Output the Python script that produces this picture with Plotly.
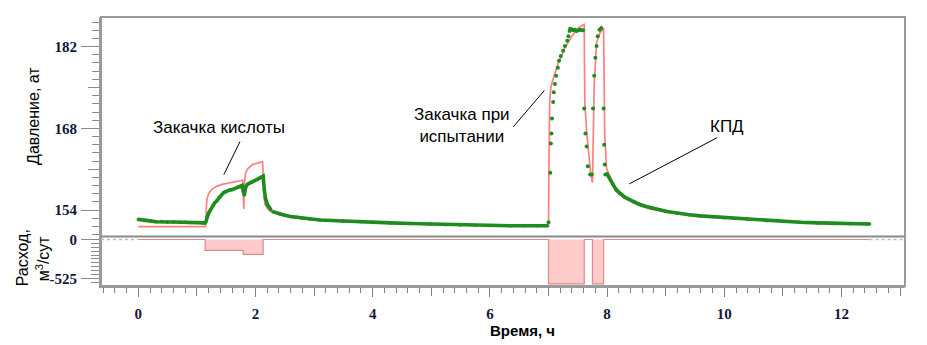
import plotly.graph_objects as go

# ---------------- data ----------------
# measured bottom-hole pressure, at (green points), split by stage
t_pre = [0.0, 0.1, 0.2, 0.3, 0.4, 0.5, 0.6, 0.7, 0.8, 0.9, 1.0, 1.1, 1.14]
p_pre = [152.4, 152.2, 152.15, 152.0, 152.05, 151.95, 151.95, 151.9, 151.9, 151.85, 151.85, 151.8, 151.8]

t_acid = [1.15, 1.17, 1.2, 1.23, 1.27, 1.3, 1.34, 1.38, 1.42, 1.46, 1.5, 1.55, 1.6, 1.65, 1.7,
          1.74, 1.77, 1.79, 1.81, 1.83, 1.86, 1.9, 1.94, 1.98, 2.03, 2.07, 2.1, 2.13, 2.15, 2.17,
          2.2, 2.23, 2.26]
p_acid = [151.9, 152.8, 153.5, 154.0, 154.7, 155.2, 155.6, 156.2, 156.6, 157.0, 157.2, 157.4, 157.5, 157.7, 157.9,
          158.0, 158.2, 157.3, 156.6, 157.9, 158.4, 158.6, 158.8, 159.0, 159.2, 159.4, 159.6, 159.8, 157.5, 156.0,
          155.0, 154.5, 154.1]

t_fall = [2.3, 2.42, 2.5, 2.6, 2.7, 2.8, 2.93, 3.1, 3.3, 3.5, 3.79, 4.0, 4.3, 4.64, 5.0, 5.25, 5.49,
          5.75, 6.0, 6.34, 6.6, 6.8, 6.98]
p_fall = [153.7, 153.3, 153.1, 152.9, 152.75, 152.6, 152.45, 152.3, 152.2, 152.1, 152.0, 151.9, 151.8, 151.7,
          151.6, 151.5, 151.45, 151.4, 151.35, 151.3, 151.3, 151.3, 151.3]

t_test = [7.0, 7.03, 7.04, 7.05, 7.06, 7.08, 7.09, 7.11, 7.13, 7.16, 7.18, 7.21, 7.25, 7.28, 7.32,
          7.34, 7.36, 7.37, 7.39, 7.42, 7.45, 7.48, 7.51, 7.54, 7.57, 7.59, 7.61, 7.63, 7.65, 7.67,
          7.71, 7.74, 7.76, 7.78, 7.80, 7.82, 7.84, 7.87, 7.90, 7.94, 7.95, 7.96, 7.97]
p_test = [151.9, 160.4, 165.4, 167.1, 169.7, 172.5, 174.2, 175.6, 177.0, 178.4, 179.6, 180.4, 181.3, 182.1, 183.0,
          183.8, 184.7, 185.05, 185.0, 184.8, 184.9, 184.7, 184.8, 184.9, 184.8, 184.8, 171.4, 167.1, 164.9, 161.5,
          160.1, 160.1, 171.4, 177.0, 180.1, 182.1, 183.8, 184.9, 185.2, 171.4, 165.2, 161.8, 160.1]

t_kpd = [8.0, 8.03, 8.06, 8.1, 8.16, 8.22, 8.3, 8.38, 8.45, 8.55, 8.65, 8.75, 8.9, 9.02, 9.2, 9.4, 9.59,
         9.8, 10.0, 10.15, 10.4, 10.72, 11.0, 11.29, 11.6, 11.86, 12.15, 12.43, 12.48]
p_kpd = [160.2, 159.6, 159.1, 158.4, 157.4, 156.8, 156.2, 155.8, 155.4, 155.0, 154.65, 154.35, 154.05, 153.75,
         153.45, 153.2, 153.0, 152.85, 152.7, 152.6, 152.4, 152.17, 152.05, 151.9, 151.8, 151.7, 151.65, 151.6, 151.6]

# model pressure, at (red curve)
t_model = [0.0, 1.14, 1.15, 1.155, 1.165, 1.18, 1.21, 1.26, 1.34, 1.45, 1.56, 1.67, 1.77, 1.78, 1.79,
           1.80, 1.805, 1.81, 1.83, 1.87, 1.95, 2.05, 2.12, 2.13, 2.14, 2.16, 2.2, 2.25, 2.35, 2.42,
           2.6, 2.93, 3.3, 3.79, 4.2, 4.64, 5.0, 5.49, 6.0, 6.34, 6.99, 7.0, 7.005, 7.01, 7.015, 7.02,
           7.04, 7.08, 7.17, 7.28, 7.40, 7.51, 7.59, 7.61, 7.615, 7.62, 7.65, 7.68, 7.72, 7.75, 7.755,
           7.76, 7.78, 7.82, 7.88, 7.94, 7.945, 7.96, 7.99, 8.05, 8.11, 8.2, 8.33, 8.5, 8.73, 9.0, 9.3,
           9.59, 10.0, 10.5, 11.0, 11.5, 12.0, 12.48]
p_model = [151.15, 151.15, 151.3, 153.5, 155.3, 156.2, 157.0, 157.6, 158.1, 158.45, 158.7, 158.9, 159.1, 159.1, 156.5,
           154.2, 156.0, 158.5, 160.4, 161.1, 161.8, 162.1, 162.3, 160.0, 157.0, 155.0, 154.3, 153.8, 153.4, 153.15,
           152.75, 152.35, 152.1, 151.9, 151.75, 151.6, 151.5, 151.4, 151.3, 151.25, 151.2, 151.2, 158.0, 165.0, 169.5, 172.5,
           175.0, 176.5, 179.3, 181.8, 183.8, 185.2, 185.7, 185.8, 178.0, 172.5, 167.5, 164.0, 160.2, 158.7, 163.0,
           168.0, 175.5, 182.7, 184.4, 185.2, 175.0, 166.9, 161.2, 159.6, 158.4, 157.2, 156.1, 155.0, 154.2, 153.7, 153.3,
           153.0, 152.75, 152.4, 152.15, 151.95, 151.8, 151.7]

# injection rate, m3/day (negative = injection), step changes
t_rate = [0.0, 1.14, 1.79, 2.13, 7.0, 7.61, 7.75, 7.94, 12.48]
q_rate = [0, -147, -200, 0, -600, 0, -600, 0, 0]

# axis ticks
p_ticks = [154, 168, 182]
p_mid_ticks = [161, 175]
q_ticks = [0, -525]
t_ticks = [0, 2, 4, 6, 8, 10, 12]
t_odd_ticks = [1, 3, 5, 7, 9, 11, 13]

# ---------------- figure ----------------
GREEN = "#1e8c1e"
RED = "#ff6b6b"
GRAY = "#9a9a9a"
TICK_FONT = dict(family="Liberation Serif", size=15, color="#16163c", weight="bold")
TEXT_FONT = dict(family="Liberation Sans", size=17, color="black")
X_RANGE = [-0.637, 13.084]
P_RANGE = [149.46, 187.08]

fig = go.Figure()

# rate panel
fig.add_trace(go.Scatter(
    x=t_rate, y=q_rate, mode="lines", line=dict(shape="hv", color="#d98c8c", width=1.2),
    fill="tozeroy", fillcolor="#ffcaca", xaxis="x", yaxis="y", hoverinfo="skip"))

# pressure panel: model then measured
fig.add_trace(go.Scatter(
    x=t_model, y=p_model, mode="lines", line=dict(color=RED, width=1.7),
    xaxis="x", yaxis="y2", opacity=0.85))

for tt, pp in [(t_pre, p_pre), (t_acid, p_acid), (t_fall, p_fall), (t_kpd, p_kpd)]:
    fig.add_trace(go.Scatter(
        x=tt, y=pp, mode="lines+markers", line=dict(color=GREEN, width=3.6),
        marker=dict(color=GREEN, size=3.5),
        xaxis="x", yaxis="y2"))

fig.add_trace(go.Scatter(
    x=t_test, y=p_test, mode="markers",
    marker=dict(color=GREEN, size=4, symbol="circle", line=dict(width=0)),
    xaxis="x", yaxis="y2"))

# overlay axes that only carry the intermediate tick marks
fig.add_trace(go.Scatter(x=[None], y=[None], xaxis="x", yaxis="y3", showlegend=False))
fig.add_trace(go.Scatter(x=[None], y=[None], xaxis="x2", yaxis="y", showlegend=False))

split = 50 / 272

fig.update_layout(
    width=927, height=345,
    margin=dict(l=101, r=22, t=14, b=59),
    paper_bgcolor="white", plot_bgcolor="white",
    showlegend=False,
    xaxis=dict(
        range=X_RANGE, domain=[0, 1], anchor="y",
        tickmode="array", tickvals=t_ticks,
        ticks="outside", ticklen=9, tickwidth=1, tickcolor="#808080",
        minor=dict(dtick=0.2, tick0=0, ticklen=5, tickcolor="#808080", ticks="outside"),
        showline=True, linecolor=GRAY, linewidth=2,
        showgrid=False, zeroline=False, tickfont=TICK_FONT, ticklabelstandoff=4),
    xaxis2=dict(
        range=X_RANGE, overlaying="x", anchor="y", side="bottom",
        tickmode="array", tickvals=t_odd_ticks,
        ticks="outside", ticklen=9, tickwidth=1, tickcolor="#808080",
        showline=False, showgrid=False, zeroline=False, showticklabels=False),
    yaxis=dict(
        range=[-628, 40], domain=[0, split], anchor="x",
        tickmode="array", tickvals=q_ticks, ticktext=[str(v) for v in q_ticks],
        ticks="outside", ticklen=18, tickcolor="#8a8a8a",
        minor=dict(dtick=52.5, tick0=0, ticklen=8, tickcolor="#8a8a8a", ticks="outside"),
        showline=True, linecolor=GRAY, linewidth=2,
        showgrid=False, zeroline=False, tickfont=TICK_FONT, ticklabelstandoff=1),
    yaxis2=dict(
        range=P_RANGE, domain=[split, 1], anchor="x",
        tickmode="array", tickvals=p_ticks, ticktext=[str(v) for v in p_ticks],
        ticks="outside", ticklen=18, tickcolor="#8a8a8a",
        minor=dict(dtick=1.4, tick0=154, ticklen=7, tickcolor="#8a8a8a", ticks="outside"),
        showline=True, linecolor=GRAY, linewidth=2,
        showgrid=False, zeroline=False, tickfont=TICK_FONT, ticklabelstandoff=1),
    yaxis3=dict(
        range=P_RANGE, overlaying="y2", anchor="x", side="left",
        tickmode="array", tickvals=p_mid_ticks,
        ticks="outside", ticklen=12, tickcolor="#8a8a8a",
        showline=False, showgrid=False, zeroline=False, showticklabels=False),
)

# frame around both panels and the divider between them
fig.add_shape(type="rect", xref="paper", yref="paper", x0=0, x1=1, y0=0, y1=1,
              line=dict(color=GRAY, width=2), layer="above")
fig.add_shape(type="line", xref="paper", yref="paper", x0=0, x1=1, y0=split, y1=split,
              line=dict(color="#8a8a8a", width=2), layer="above")

# dotted zero level outside the record
fig.add_shape(type="line", xref="x", yref="y", x0=X_RANGE[0], x1=0, y0=0, y1=0,
              line=dict(color="#bbbbbb", width=1.5, dash="dot"))
fig.add_shape(type="line", xref="x", yref="y", x0=12.48, x1=X_RANGE[1], y0=0, y1=0,
              line=dict(color="#bbbbbb", width=1.5, dash="dot"))

# callouts
callouts = [
    ("Закачка кислоты", 1.37, 168.1, (1.46, 160.08, 1.735, 165.73)),
    ("Закачка при<br>испытании", 5.52, 168.44, (6.40, 168.27, 6.93, 174.49)),
    ("КПД", 10.05, 168.35, (8.38, 158.49, 9.88, 166.41)),
]
for text, tx, ty, (x0, y0, x1, y1) in callouts:
    fig.add_annotation(x=tx, y=ty, xref="x", yref="y2", text=text, showarrow=False,
                       font=TEXT_FONT, align="center")
    fig.add_shape(type="line", xref="x", yref="y2", x0=x0, y0=y0, x1=x1, y1=y1,
                  line=dict(color="black", width=1))

# axis titles, placed in pixels and converted to paper coordinates below
fig.add_annotation(x=34, y=114, xref="paper", yref="paper", text="Давление, ат",
                   showarrow=False, textangle=-90,
                   font=dict(family="Liberation Sans", size=16, color="black"))
fig.add_annotation(x=22, y=258, xref="paper", yref="paper", text="Расход,",
                   showarrow=False, textangle=-90,
                   font=dict(family="Liberation Sans", size=16, color="black"))
fig.add_annotation(x=43, y=258, xref="paper", yref="paper", text="м<sup>3</sup>/сут",
                   showarrow=False, textangle=-90,
                   font=dict(family="Liberation Sans", size=16, color="black"))
fig.add_annotation(x=522, y=331, xref="paper", yref="paper", text="<b>Время, ч</b>",
                   showarrow=False,
                   font=dict(family="Liberation Sans", size=15, color="black"))

W, H = 927, 345
L, R, T, B = 101, 22, 14, 59
pw, ph = W - L - R, H - T - B
for ann in fig.layout.annotations[3:]:
    ann.x = (ann.x - L) / pw
    ann.y = 1 - (ann.y - T) / ph
    ann.xanchor = "center"
    ann.yanchor = "middle"

fig.write_html("out.html")
